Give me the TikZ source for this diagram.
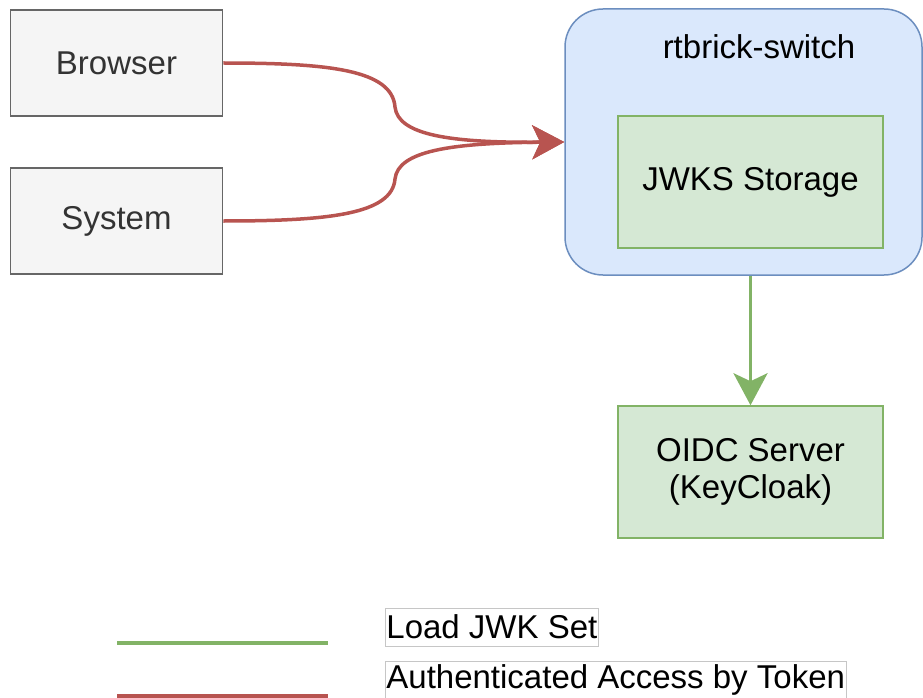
\documentclass[tikz,border=0pt]{standalone}
\usepackage{fontspec}
\setmainfont{Liberation Sans}
\usetikzlibrary{arrows.meta}
\definecolor{boxgray}{HTML}{F5F5F5}
\definecolor{edgegray}{HTML}{666666}
\definecolor{txtgray}{HTML}{333333}
\definecolor{swblue}{HTML}{DAE8FC}
\definecolor{edgeblue}{HTML}{6C8EBF}
\definecolor{boxgreen}{HTML}{D5E8D4}
\definecolor{edgegreen}{HTML}{82B366}
\definecolor{edgered}{HTML}{B85450}

\begin{document}
\begin{tikzpicture}[x=1pt,y=-1pt,
	big/.style={font=\fontsize{33}{37}\selectfont},
	client/.style={big, draw=edgegray, fill=boxgray, text=txtgray, line width=1.5pt,
		minimum width=212pt, minimum height=106pt, inner sep=0pt},
	store/.style={big, draw=edgegreen, fill=boxgreen, line width=1.5pt, align=center,
		minimum width=265pt, minimum height=132pt, inner sep=0pt},
	token/.style={draw=edgered, line width=3.5pt},
	loadkey/.style={draw=edgegreen, line width=3.5pt},
	legend/.style={big, draw=gray!45, line width=0.8pt, inner sep=1pt, anchor=west, minimum height=38pt},
	tip/.style={-{Stealth[length=32pt,width=34pt,inset=8pt]}}]
	\useasboundingbox (0,0) rectangle (923,698);

	% Clients
	\node[client] (browser) at (116.5,63) {Browser};
	\node[client] (system) at (116.5,221) {System};

	% Switch with its key storage
	\node[draw=edgeblue, fill=swblue, line width=1.5pt, rounded corners=38pt,
		minimum width=357pt, minimum height=266pt] (switch) at (743.5,142) {};
	\node[big] (switchlbl) at (759,47) {rtbrick-switch};
	\node[store] (jwks) at (750.5,182) {JWKS Storage};

	% OIDC server
	\node[store] (oidc) at (750.5,472) {OIDC Server\\(KeyCloak)};

	% Access by token
	\draw[token, tip] (browser.east) .. controls (330,63) and (392,70) .. (395,107)
		.. controls (398,135) and (450,143) .. (switch.west);
	\draw[token, tip] (system.east) .. controls (330,221) and (392,214) .. (395,179)
		.. controls (398,151) and (450,143) .. (switch.west);

	% Loading the key set
	\draw[loadkey, tip] (jwks.center |- switch.south) -- (oidc.north);

	% Legend
	\coordinate (g1) at (117,643);
	\coordinate (g2) at (328,643);
	\coordinate (r1) at (117,696);
	\coordinate (r2) at (328,696);
	\draw[loadkey] (g1) -- (g2);
	\draw[token] (r1) -- (r2);
	\node[legend] (loadtxt) at (385,627) {Load JWK Set};
	\node[legend] (tokentxt) at (385,680) {Authenticated Access by Token};
\end{tikzpicture}
\end{document}
